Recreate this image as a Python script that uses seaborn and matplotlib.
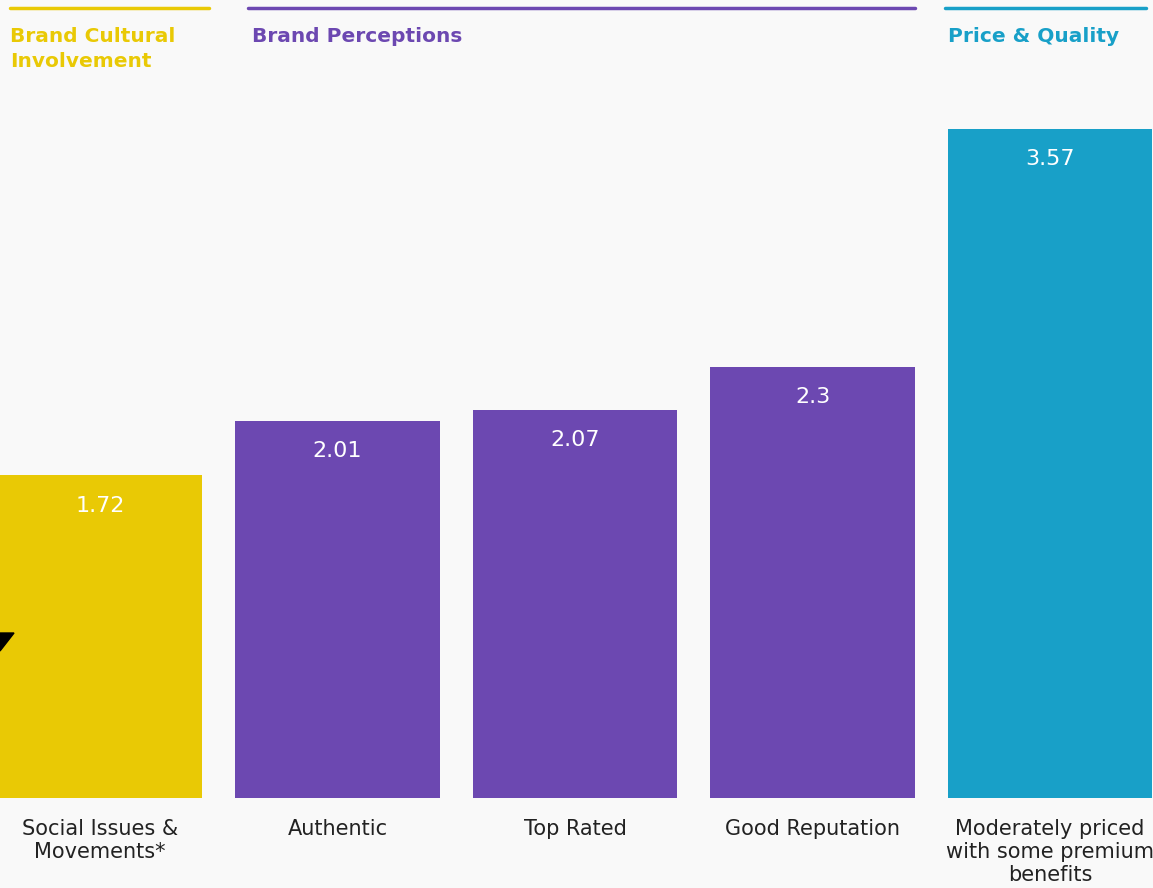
import numpy as np
import pandas as pd
import matplotlib.pyplot as plt
import seaborn as sns
from matplotlib.lines import Line2D
from matplotlib.patches import Polygon

# data
categories = ['Social Issues &\nMovements*', 'Authentic', 'Top Rated',
              'Good Reputation', 'Moderately priced\nwith some premium\nbenefits']
values = [1.72, 2.01, 2.07, 2.3, 3.57]
value_labels = ['1.72', '2.01', '2.07', '2.3', '3.57']
groups = ['Brand Cultural\nInvolvement', 'Brand Perceptions', 'Price & Quality']

yellow = '#E9C905'
purple = '#6C48B1'
teal = '#18A0C8'
bar_colors = [yellow, purple, purple, purple, teal]
group_colors = [yellow, purple, teal]
bg = '#F9F9F9'

df = pd.DataFrame({'category': categories, 'value': values})

sns.set_style('white')
plt.rcParams['font.family'] = ['DejaVu Sans']

W, H = 1153, 888
fig = plt.figure(figsize=(W / 100, H / 100), dpi=100, facecolor=bg)
ax = fig.add_axes([0, 90 / H, 1, 798 / H])
ax.set_facecolor(bg)

sns.barplot(data=df, x='category', y='value', hue='category', palette=bar_colors,
            width=0.86, saturation=1, legend=False, linewidth=0,
            edgecolor='none', ax=ax)

ax.set_xlim(-100 / 237.5, (W - 100) / 237.5)
ax.set_ylim(0, 798 / 187.5)
sns.despine(ax=ax, left=True, bottom=True)
ax.set_xticks([])
ax.set_yticks([])
ax.set_xlabel('')
ax.set_ylabel('')

# value labels inside bars
for i, (v, lab) in enumerate(zip(values, value_labels)):
    ax.text(i, v - 0.16, lab, ha='center', va='center', color='white',
            fontsize=16)

# category labels under bars
for i, lab in enumerate(categories):
    ax.text(i, -0.11, lab, ha='center', va='top', color='#222222',
            fontsize=15, linespacing=1.2, multialignment='center')

# group headers with lines above
line_spans = [(10, 209), (248, 915), (945, 1146)]
text_x = [10, 252, 948]
for (x0, x1), tx, g, c in zip(line_spans, text_x, groups, group_colors):
    fig.add_artist(Line2D([x0 / W, x1 / W], [1 - 8 / H, 1 - 8 / H], color=c, lw=2.5))
    fig.text(tx / W, 1 - 27 / H, g, ha='left', va='top', color=c,
             fontsize=14.5, fontweight='bold', linespacing=1.38)

# small black pointer at left edge
tri = [(0, 1 - 633 / H), (14 / W, 1 - 633 / H), (0, 1 - 651 / H)]
fig.add_artist(Polygon(tri, closed=True, color='black', transform=fig.transFigure))

fig.savefig('out.png', dpi=100, facecolor=bg)
